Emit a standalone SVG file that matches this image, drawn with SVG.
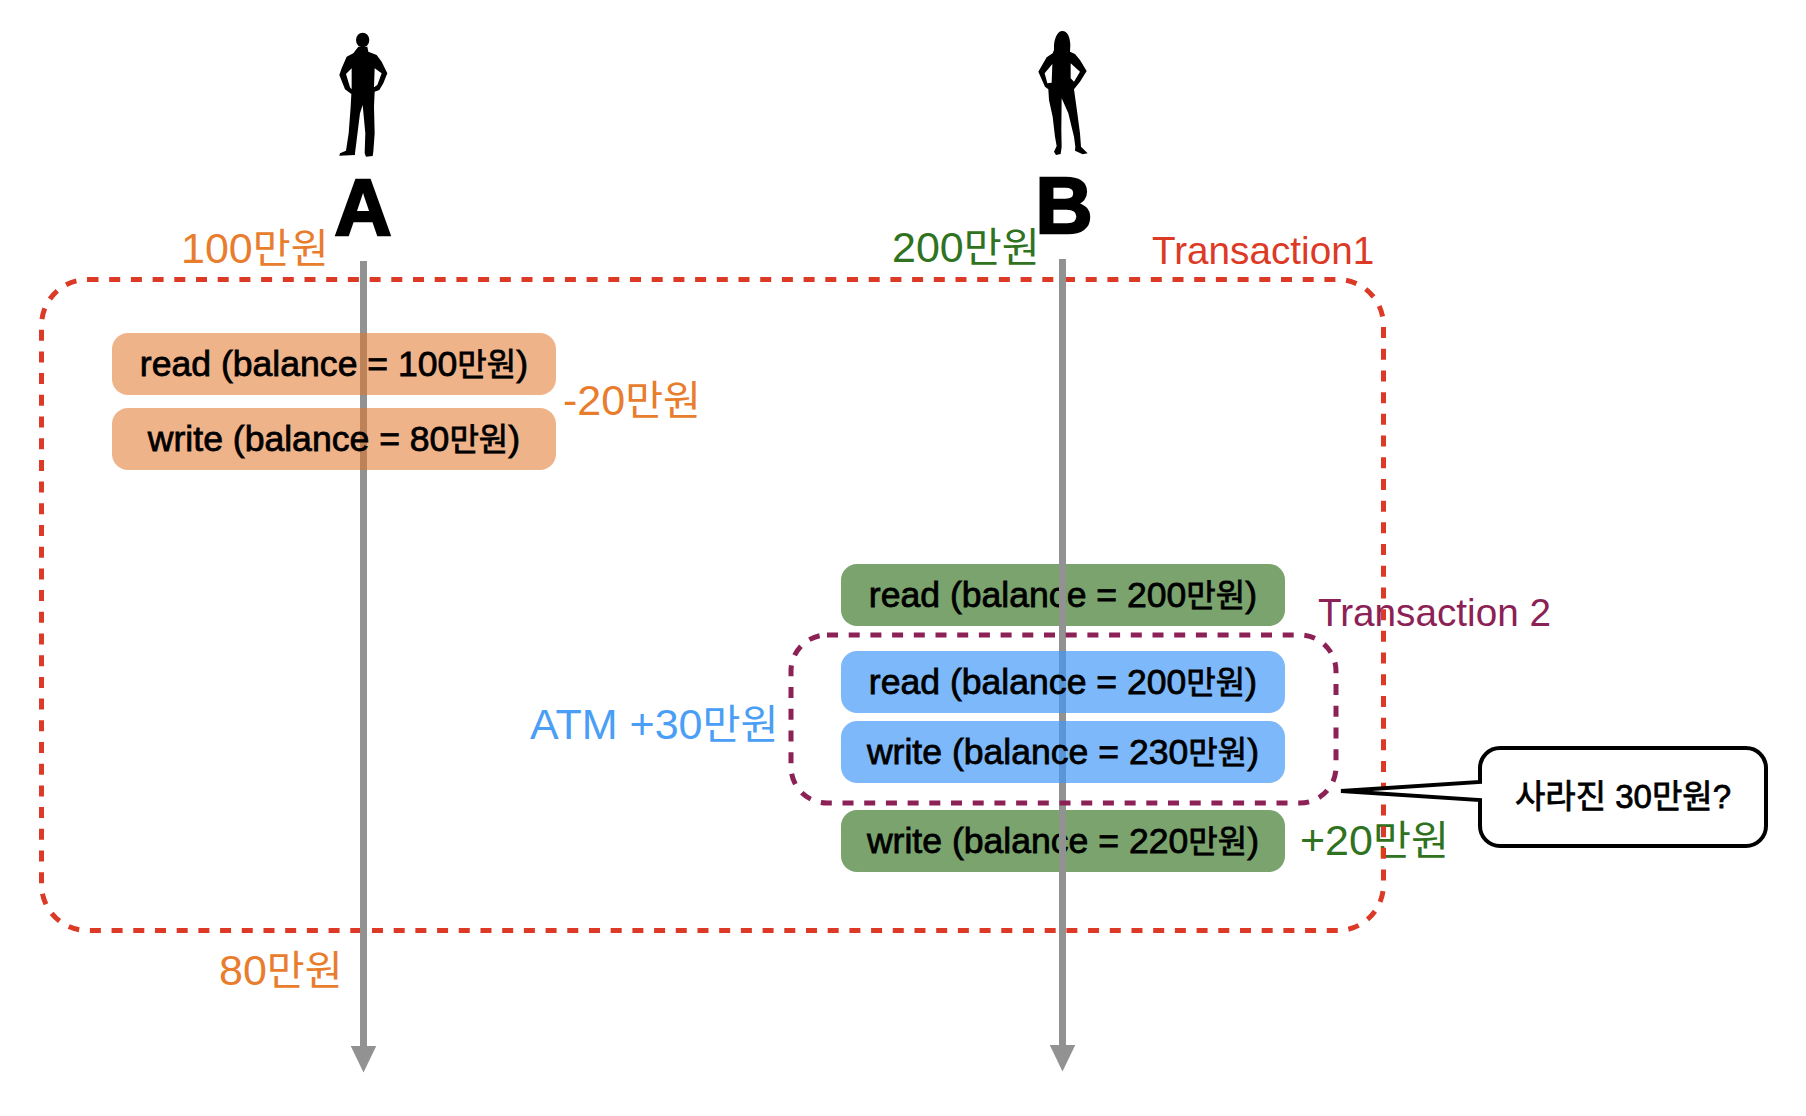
<svg xmlns="http://www.w3.org/2000/svg" width="1806" height="1116" viewBox="0 0 1806 1116">
<style>
text{font-family:"Liberation Sans","Noto Sans CJK KR",sans-serif}
.k{font-size:.9em}
.l{font-size:43px}
.l .k{font-size:.96em}
.b{font-size:35.6px;font-weight:400;fill:#000;stroke:#000;stroke-width:.8px;text-anchor:middle}
.o{fill:#E87D2E}.g{fill:#2F7320}.t{font-size:38.7px}
.box{stroke:none}
.big{font-size:79px;font-weight:700;fill:#000;stroke:#000;stroke-width:2.5px;text-anchor:middle}
</style>
<defs>
<marker id="ah" markerUnits="userSpaceOnUse" markerWidth="27" markerHeight="26" refX="0.5" refY="13" orient="auto" viewBox="0 0 27 26"><path d="M0 0L27 13L0 26Z" fill="#929292"/></marker>
</defs>
<rect width="1806" height="1116" fill="#fff"/>
<g id="person-a">
<g transform="translate(300,0) scale(.3333)"><ellipse cx="188" cy="120" rx="20" ry="22"/><path fill-rule="evenodd" d="M175 140L202 140L205 155L230 165L245 185L262 220L250 250L238 270L224 275L222 320L224 400L220 455L218 468L198 470L194 460L196 400L188 315L180 340L170 420L165 460L165 465L118 467L120 460L138 452L146 400L152 320L154 282L135 268L118 225L125 205L140 170L160 160ZM155 205L138 222L150 262L155 268ZM224 205L245 220L232 255L222 262Z"/></g>
<text class="big" x="363" y="235">A</text>
</g>
<g id="person-b">
<g transform="translate(1000,0) scale(.3333)"><path fill-rule="evenodd" d="M187 93C172 93 164 115 162 135L162 150L158 160L140 172L115 215L135 260L145 268L147 300L158 350L165 410L170 438L162 455L168 465L182 462L185 440L184 390L185 295L205 340L222 410L226 440L225 452L248 463L263 460L243 440L240 400L232 340L222 268L240 245L260 213L240 180L225 162L210 155L211 135C210 110 202 93 187 93ZM157 192L134 220L142 250L155 248ZM212 190L240 215L222 245L212 235Z"/></g>
<text class="big" x="1064" y="233">B</text>
</g>
<g id="labels">
<text class="l o" x="181" y="263">100<tspan class="k">만원</tspan></text>
<text class="l g" x="892" y="262">200<tspan class="k">만원</tspan></text>
<text class="l o" x="563" y="415">-20<tspan class="k">만원</tspan></text>
<text class="l o" x="219" y="985">80<tspan class="k">만원</tspan></text>
<text class="l g" x="1300" y="855">+20<tspan class="k">만원</tspan></text>
<text class="l" x="530" y="739" fill="#4A9EF5">ATM +30<tspan class="k">만원</tspan></text>
<text class="t" x="1152" y="264" fill="#DC3A26">Transaction1</text>
<text class="t" x="1318" y="626" fill="#8C2155">Transaction 2</text>
</g>
<g id="transaction1"><rect x="41.5" y="279.5" width="1342" height="651" rx="46" fill="none" stroke="#DC3A26" stroke-width="5" stroke-dasharray="11 10.7"/></g>
<g id="b-read-green"><rect class="box" x="841" y="564" width="444" height="62" rx="16" fill="#7AA36E"/><text class="b" x="1063" y="607">read (balance = 200<tspan class="k">만원</tspan>)</text></g>
<g id="b-write-green"><rect class="box" x="841" y="810" width="444" height="62" rx="16" fill="#7AA36E"/><text class="b" x="1063" y="853">write (balance = 220<tspan class="k">만원</tspan>)</text></g>
<g id="connectors">
<line x1="363.5" y1="261" x2="363.5" y2="1046" stroke="#929292" stroke-width="7" marker-end="url(#ah)"/>
<line x1="1062.5" y1="259" x2="1062.5" y2="1045" stroke="#929292" stroke-width="7" marker-end="url(#ah)"/>
</g>
<g id="a-read"><rect class="box" x="112" y="333" width="444" height="62" rx="16" fill="#E2742A" fill-opacity=".55"/><text class="b" x="334" y="376">read (balance = 100<tspan class="k">만원</tspan>)</text></g>
<g id="a-write"><rect class="box" x="112" y="408" width="444" height="62" rx="16" fill="#E2742A" fill-opacity=".55"/><text class="b" x="334" y="451">write (balance = 80<tspan class="k">만원</tspan>)</text></g>
<g id="b-read-blue"><rect class="box" x="841" y="651" width="444" height="62" rx="16" fill="#4098F8" fill-opacity=".68"/><text class="b" x="1063" y="694">read (balance = 200<tspan class="k">만원</tspan>)</text></g>
<g id="b-write-blue"><rect class="box" x="841" y="721" width="444" height="62" rx="16" fill="#4098F8" fill-opacity=".68"/><text class="b" x="1063" y="764">write (balance = 230<tspan class="k">만원</tspan>)</text></g>
<g id="transaction2"><rect x="791" y="635" width="545" height="168" rx="36" fill="none" stroke="#8C2155" stroke-width="5" stroke-dasharray="11 10.7"/></g>
<g id="callout"><path d="M1500 748H1746A20 20 0 0 1 1766 768V826A20 20 0 0 1 1746 846H1500A20 20 0 0 1 1480 826V800L1341 791L1480 782V768A20 20 0 0 1 1500 748Z" fill="#fff" stroke="#000" stroke-width="4"/><text class="b" x="1623" y="808" style="font-size:33px">사라진 30만원?</text></g>
</svg>
